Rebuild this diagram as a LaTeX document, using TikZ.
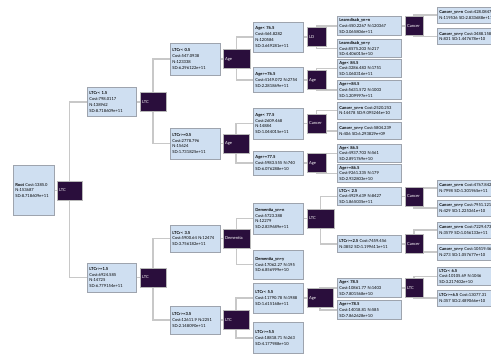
\documentclass[tikz,border=0pt]{standalone}
\usepackage{fontspec}
\setmainfont{Lato}
\usetikzlibrary{positioning,backgrounds}

\definecolor{boxfill}{HTML}{CFDFF1}
\definecolor{boxline}{HTML}{9EA4AE}
\definecolor{splitfill}{HTML}{2A0E3C}
\definecolor{splitline}{HTML}{B8B8B8}
\definecolor{edgecol}{HTML}{C8C8C8}

\newcommand{\nodefont}{\fontsize{4.1}{5.8}\selectfont}

\begin{document}
\begin{tikzpicture}[x=1pt, y=-1pt,
        every node/.style = {font=\nodefont},
        cond/.style = {draw=boxline, fill=boxfill, line width=0.8pt, inner sep=2pt,
            align=left, anchor=west, text width=#1},
        split/.style = {draw=splitline, fill=splitfill, text=white, line width=0.6pt,
            inner sep=2pt, minimum height=19pt, align=left, text width=#1},
        edge/.style = {draw=edgecol, line width=1.4pt},
    ]
    \useasboundingbox (0,0) rectangle (491,357);
    % root
    \node [cond=37pt, minimum height=50pt] (croot) at (13,190.5) {\textbf{Root} Cost:1385.0\\N:153687\\SD:8.718609e+11};
    \node [split=21pt, right = 2pt of croot] (droot) {LTC};
    % level 1
    \node [cond=45pt, minimum height=29pt] (cL) at (87,102) {\textbf{LTCr< 1.5}\\Cost:798.0117\\N:138962\\SD:8.718609e+11};
    \node [split=22pt, right = 3pt of cL] (dL) {LTC};
    \node [cond=45pt, minimum height=29pt] (cR) at (87,277.5) {\textbf{LTCr>=1.5}\\Cost:6924.585\\N:14725\\SD:6.779154e+11};
    \node [split=22pt, right = 3pt of cR] (dR) {LTC};
    % level 2
    \node [cond=46pt, minimum height=32pt] (cLL) at (170,59) {\textbf{LTCr< 0.5}\\Cost:547.0938\\N:123338\\SD:6.296122e+11};
    \node [split=23pt, right = 2pt of cLL] (dLL) {Age};
    \node [cond=46pt, minimum height=31pt] (cLR) at (170,143.5) {\textbf{LTCr>=0.5}\\Cost:2778.796\\N:15624\\SD:1.731825e+11};
    \node [split=22pt, right = 2pt of cLR] (dLR) {Age};
    \node [cond=46pt, minimum height=27pt] (cRL) at (170,238.5) {\textbf{LTCr< 3.5}\\Cost:5900.64 N:12474\\SD:3.756182e+11};
    \node [split=23pt, right = 2pt of cRL] (dRL) {Dementia};
    \node [cond=46pt, minimum height=28pt] (cRR) at (170,320) {\textbf{LTCr>=3.5}\\Cost:12611.9 N:2251\\SD:2.148090e+11};
    \node [split=22pt, right = 2pt of cRR] (dRR) {LTC};
    % level 3
    \node [cond=46pt, minimum height=30pt] (cLLL) at (253,37) {\textbf{Age< 76.5}\\Cost:464.8282\\N:120584\\SD:3.649281e+11};
    \node [split=15pt, right = 3pt of cLLL] (dLLL) {LD};
    \node [cond=46pt, minimum height=25pt] (cLLR) at (253,80) {\textbf{Age>=76.5}\\Cost:4149.072 N:2754\\SD:2.281869e+11};
    \node [split=15pt, right = 3pt of cLLR] (dLLR) {Age};
    \node [cond=46pt, minimum height=31pt] (cLRL) at (253,123.5) {\textbf{Age< 77.5}\\Cost:2609.468\\N:14884\\SD:1.044015e+11};
    \node [split=15pt, right = 3pt of cLRL] (dLRL) {Cancer};
    \node [cond=46pt, minimum height=24pt] (cLRR) at (253,163) {\textbf{Age>=77.5}\\Cost:5983.555 N:740\\SD:6.076288e+10};
    \node [split=15pt, right = 3pt of cLRR] (dLRR) {Age};
    \node [cond=46pt, minimum height=31pt] (cRLL) at (253,218.5) {\textbf{Dementia\_yn=n}\\Cost:5723.388\\N:12279\\SD:2.839689e+11};
    \node [split=23pt, right = 3pt of cRLL] (dRLL) {LTC};
    \node [cond=46pt, minimum height=29pt] (cRLR) at (253,264.5) {\textbf{Dementia\_yn=y}\\Cost:17062.27 N:195\\SD:6.856999e+10};
    \node [cond=46pt, minimum height=30pt] (cRRL) at (253,298) {\textbf{LTCr< 5.5}\\Cost:11790.78 N:1988\\SD:1.615168e+11};
    \node [split=22pt, right = 3pt of cRRL] (dRRL) {Age};
    \node [cond=46pt, minimum height=31pt] (cRRR) at (253,338) {\textbf{LTCr>=5.5}\\Cost:18818.71 N:263\\SD:4.177988e+10};
    % level 4
    \node [cond=60pt, minimum height=17pt] (c1) at (337,26) {\textbf{Learndisab\_yn=n}\\Cost:450.2267 N:120367\\SD:3.065806e+11};
    \node [split=14pt, right = 3pt of c1] (d1) {Cancer};
    \node [cond=60pt, minimum height=17pt] (c2) at (337,48.5) {\textbf{Learndisab\_yn=y}\\Cost:8575.203 N:217\\SD:4.406015e+10};
    \node [cond=60pt, minimum height=17pt] (c3) at (337,68.5) {\textbf{Age< 84.5}\\Cost:3286.483 N:1751\\SD:1.060316e+11};
    \node [cond=60pt, minimum height=17pt] (c4) at (337,90) {\textbf{Age>=84.5}\\Cost:5631.572 N:1003\\SD:1.209997e+11};
    \node [cond=60pt, minimum height=17pt] (c5) at (337,110.5) {\textbf{Cancer\_yn=n} Cost:2520.253\\N:14478 SD:9.095244e+10};
    \node [cond=60pt, minimum height=17pt] (c6) at (337,131) {\textbf{Cancer\_yn=y} Cost:5804.239\\N:406 SD:6.293829e+09};
    \node [cond=60pt, minimum height=17pt] (c7) at (337,153.5) {\textbf{Age< 86.5}\\Cost:4937.703 N:561\\SD:2.891769e+10};
    \node [cond=60pt, minimum height=17pt] (c8) at (337,173.5) {\textbf{Age>=86.5}\\Cost:9261.335 N:179\\SD:2.932803e+10};
    \node [cond=60pt, minimum height=17pt] (c9) at (337,196.5) {\textbf{LTCr< 2.5}\\Cost:4929.639 N:8427\\SD:1.865035e+11};
    \node [split=14pt, right = 3pt of c9] (d9) {Cancer};
    \node [cond=60pt, minimum height=17pt] (c10) at (337,244) {\textbf{LTCr>=2.5} Cost:7459.456\\N:3852 SD:1.199611e+11};
    \node [split=14pt, right = 3pt of c10] (d10) {Cancer};
    \node [cond=60pt, minimum height=17pt] (c11) at (337,288) {\textbf{Age< 78.5}\\Cost:10861.77 N:1403\\SD:7.801568e+10};
    \node [split=14pt, right = 3pt of c11] (d11) {LTC};
    \node [cond=60pt, minimum height=17pt] (c12) at (337,310) {\textbf{Age>=78.5}\\Cost:14018.81 N:585\\SD:7.862628e+10};
    % level 5
    \node [cond=62pt, minimum height=16pt] (e1) at (437,15) {\textbf{Cancer\_yn=n} Cost:428.0847\\N:119536 SD:2.833688e+11};
    \node [cond=62pt, minimum height=16pt] (e2) at (437,36.5) {\textbf{Cancer\_yn=y} Cost:3488.158\\N:831 SD:1.447678e+10};
    \node [cond=62pt, minimum height=16pt] (e3) at (437,188) {\textbf{Cancer\_yn=n} Cost:4767.842\\N:7998 SD:1.301965e+11};
    \node [cond=62pt, minimum height=16pt] (e4) at (437,208) {\textbf{Cancer\_yn=y} Cost:7951.121\\N:429 SD:1.225361e+10};
    \node [cond=62pt, minimum height=16pt] (e5) at (437,230) {\textbf{Cancer\_yn=n} Cost:7229.473\\N:3579 SD:1.056133e+11};
    \node [cond=62pt, minimum height=16pt] (e6) at (437,252) {\textbf{Cancer\_yn=y} Cost:10519.46\\N:273 SD:1.057677e+10};
    \node [cond=62pt, minimum height=18pt] (e7) at (437,276.5) {\textbf{LTCr< 6.5}\\Cost:10105.69 N:1046\\SD:3.217402e+10};
    \node [cond=62pt, minimum height=16pt] (e8) at (437,298) {\textbf{LTCr>=6.5} Cost:13077.31\\N:357 SD:2.489066e+10};
    % connectors
    \begin{scope}[on background layer]
        \foreach \a/\b in {croot/droot, cL/dL, cR/dR, cLL/dLL, cLR/dLR, cRL/dRL, cRR/dRR,
                cLLL/dLLL, cLLR/dLLR, cLRL/dLRL, cLRR/dLRR, cRLL/dRLL, cRRL/dRRL,
                c1/d1, c9/d9, c10/d10, c11/d11}
            \draw [edge] (\a.east) -- (\b.west);
        \foreach \a/\b in {droot/cL, droot/cR, dL/cLL, dL/cLR, dR/cRL, dR/cRR,
                dLL/cLLL, dLL/cLLR, dLR/cLRL, dLR/cLRR, dRL/cRLL, dRL/cRLR, dRR/cRRL, dRR/cRRR,
                dLLL/c1, dLLL/c2, dLLR/c3, dLLR/c4, dLRL/c5, dLRL/c6, dLRR/c7, dLRR/c8,
                dRLL/c9, dRLL/c10, dRRL/c11, dRRL/c12,
                d1/e1, d1/e2, d9/e3, d9/e4, d10/e5, d10/e6, d11/e7, d11/e8}
            \draw [edge] (\a.center) |- (\b.west);
    \end{scope}
\end{tikzpicture}
\end{document}
